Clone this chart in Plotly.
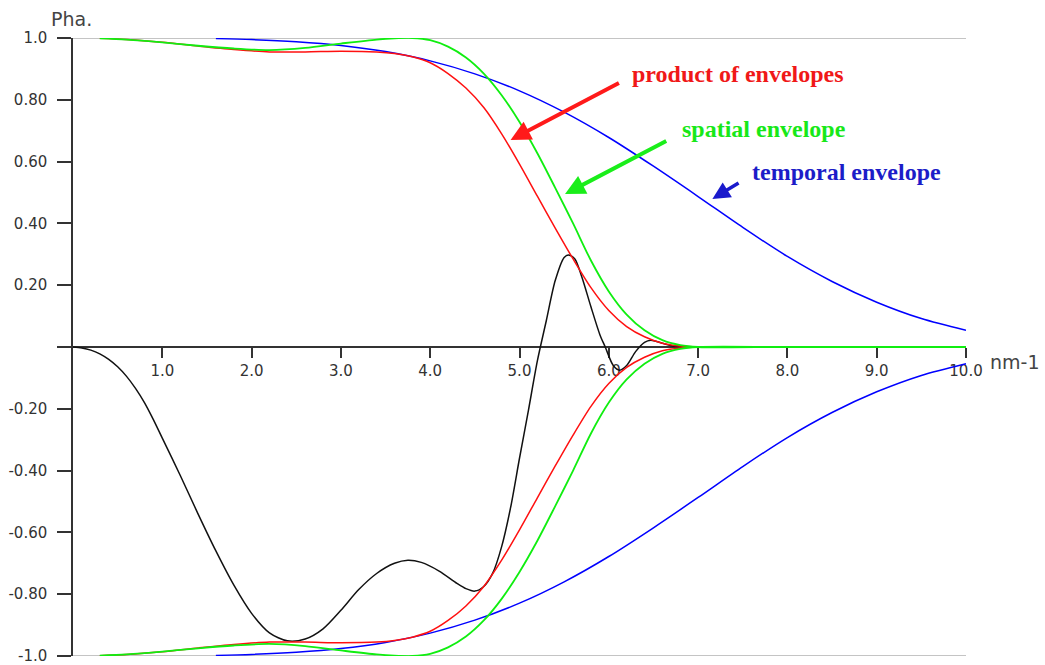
import plotly.graph_objects as go

# Spatial frequency samples (nm^-1) and envelope amplitudes
envelope_q = [0.3, 0.6, 1.0, 1.4, 1.8, 2.2, 2.6, 3.0, 3.4, 3.6, 3.8, 4.0, 4.2, 4.4, 4.6,
              4.8, 5.0, 5.2, 5.4, 5.6, 5.8, 6.0, 6.2, 6.4, 6.6, 6.8, 7.0, 8.0, 10.0]
spatial_env = [0.999, 0.995, 0.986, 0.975, 0.966, 0.961, 0.968, 0.982, 0.995, 0.999, 1.0,
               0.993, 0.972, 0.937, 0.885, 0.815, 0.728, 0.627, 0.515, 0.40, 0.28, 0.18,
               0.105, 0.054, 0.022, 0.006, 0.0, 0.0, 0.0]

product_q = [0.3, 0.6, 1.0, 1.4, 1.8, 2.2, 2.6, 3.0, 3.4, 3.6, 3.8, 4.0, 4.2, 4.4, 4.6,
             4.8, 5.0, 5.2, 5.4, 5.6, 5.8, 6.0, 6.2, 6.4, 6.6, 6.8, 7.0]
product_env = [0.999, 0.995, 0.986, 0.974, 0.963, 0.955, 0.955, 0.957, 0.955, 0.950, 0.939,
               0.920, 0.885, 0.838, 0.775, 0.69, 0.592, 0.488, 0.385, 0.285, 0.192, 0.118,
               0.066, 0.033, 0.012, 0.003, 0.0]

temporal_q = [1.6, 2.0, 2.5, 3.0, 3.5, 4.0, 4.5, 5.0, 5.5, 6.0, 6.5, 7.0, 7.5, 8.0, 8.5,
              9.0, 9.5, 10.0]
temporal_env = [0.998, 0.995, 0.988, 0.976, 0.956, 0.926, 0.884, 0.829, 0.760, 0.678, 0.585,
                0.487, 0.387, 0.293, 0.212, 0.145, 0.092, 0.054]

# Phase contrast transfer function (damped)
ctf_q = [0.0, 0.1, 0.2, 0.3, 0.4, 0.5, 0.6, 0.7, 0.8, 0.9, 1.0, 1.2, 1.4, 1.6, 1.8, 2.0,
         2.2, 2.4, 2.6, 2.8, 3.0, 3.2, 3.4, 3.6, 3.75, 3.9, 4.1, 4.3, 4.4, 4.5, 4.6, 4.7,
         4.8, 4.9, 5.0, 5.1, 5.2, 5.3, 5.4, 5.5, 5.55, 5.62, 5.7, 5.8, 5.9, 5.96, 6.05,
         6.12, 6.2, 6.3, 6.4, 6.47, 6.6, 6.75, 6.9, 7.0]
ctf_val = [0.0, -0.003, -0.01, -0.022, -0.04, -0.064, -0.095, -0.134, -0.18, -0.235, -0.295,
           -0.415, -0.54, -0.66, -0.77, -0.862, -0.925, -0.951, -0.945, -0.912, -0.852,
           -0.785, -0.733, -0.70, -0.69, -0.697, -0.725, -0.765, -0.782, -0.79, -0.775,
           -0.732, -0.646, -0.52, -0.36, -0.205, -0.045, 0.085, 0.215, 0.29, 0.298, 0.285,
           0.225, 0.13, 0.04, 0.0, -0.06, -0.075, -0.06, -0.015, 0.015, 0.022, 0.012, 0.002,
           0.0, 0.0]

x_ticks = [1, 2, 3, 4, 5, 6, 7, 8, 9, 10]
x_tick_text = ["1.0", "2.0", "3.0", "4.0", "5.0", "6.0", "7.0", "8.0", "9.0", "10.0"]
y_ticks = [1.0, 0.8, 0.6, 0.4, 0.2, 0.0, -0.2, -0.4, -0.6, -0.8, -1.0]
y_tick_text = ["1.0", "0.80", "0.60", "0.40", "0.20", "", "-0.20", "-0.40", "-0.60",
               "-0.80", "-1.0"]

RED = "#ff1010"
GREEN = "#10ee10"
BLUE = "#0000ff"
BLACK = "#111111"
AXIS = "#333333"


def neg(values):
    return [-v for v in values]


fig = go.Figure()

curves = [
    (temporal_q, temporal_env, BLUE, 1.5),
    (temporal_q, neg(temporal_env), BLUE, 1.5),
    (ctf_q, ctf_val, BLACK, 1.5),
    (product_q, product_env, RED, 1.5),
    (product_q, neg(product_env), RED, 1.5),
    (envelope_q, spatial_env, GREEN, 1.8),
    (envelope_q, neg(spatial_env), GREEN, 1.8),
]
for qx, vy, color, w in curves:
    fig.add_trace(go.Scatter(
        x=qx, y=vy, mode="lines",
        line=dict(color=color, width=w, shape="spline", smoothing=0.8),
        hoverinfo="skip", showlegend=False,
    ))

# light frame lines at +1 / -1
for yv in (1.0, -1.0):
    fig.add_shape(type="line", xref="x", yref="y", x0=0, x1=10, y0=yv, y1=yv,
                  line=dict(color="#c4c4c4", width=2), layer="below")

label_font = dict(family="Liberation Serif", size=24)
arrows = [
    # (tip x, tip y, tail x, tail y, color, width)
    (4.90, 0.670, 6.13, 0.857, "#ff1a1a", 4),
    (5.51, 0.495, 6.66, 0.669, "#1aee1a", 4),
    (7.16, 0.479, 7.47, 0.534, "#1a1acc", 3.5),
]
for tx, ty, sx, sy, color, w in arrows:
    fig.add_annotation(x=tx, y=ty, ax=sx, ay=sy, xref="x", yref="y", axref="x", ayref="y",
                       text="", showarrow=True, arrowhead=2, arrowsize=1.0,
                       arrowwidth=w, arrowcolor=color, standoff=0, startstandoff=0)

labels = [
    ("product of envelopes", 6.24, 0.885, "#f01818"),
    ("spatial envelope", 6.80, 0.706, "#18e818"),
    ("temporal envelope", 7.58, 0.566, "#1c1cc8"),
]
for txt, lx, ly, color in labels:
    fig.add_annotation(x=lx, y=ly, xref="x", yref="y", text="<b>" + txt + "</b>",
                       showarrow=False, xanchor="left", yanchor="middle",
                       font=dict(color=color, **label_font))

axis_title_font = dict(family="DejaVu Sans", size=19, color="#444444")
fig.add_annotation(x=-0.002, y=1.030, xref="paper", yref="paper", text="Pha.",
                   showarrow=False, xanchor="center", yanchor="middle",
                   font=axis_title_font)
fig.add_annotation(x=1.0246, y=0.476, xref="paper", yref="paper", text="nm-1",
                   showarrow=False, xanchor="left", yanchor="middle",
                   font=axis_title_font)

tick_font = dict(family="DejaVu Sans", size=15, color="#333333")
fig.update_layout(
    width=1045, height=665,
    margin=dict(l=73, r=79, t=38, b=9, autoexpand=False),
    paper_bgcolor="white", plot_bgcolor="white",
    xaxis=dict(
        range=[0, 10], anchor="free", position=0.5, automargin=False,
        showline=True, linecolor=AXIS, linewidth=1.5,
        ticks="outside", ticklen=10, tickwidth=1.5, tickcolor=AXIS,
        tickvals=x_ticks, ticktext=x_tick_text, tickfont=tick_font,
        ticklabeloverflow="allow",
        showgrid=False, zeroline=False, layer="below traces",
    ),
    yaxis=dict(
        range=[-1, 1], automargin=False,
        showline=True, linecolor=AXIS, linewidth=1.5,
        ticks="outside", ticklen=14, tickwidth=1.5, tickcolor=AXIS,
        tickvals=y_ticks, ticktext=y_tick_text, tickfont=tick_font,
        ticklabelstandoff=7, ticklabeloverflow="allow",
        showgrid=False, zeroline=False, layer="below traces",
    ),
)

fig.write_html("out.html")
